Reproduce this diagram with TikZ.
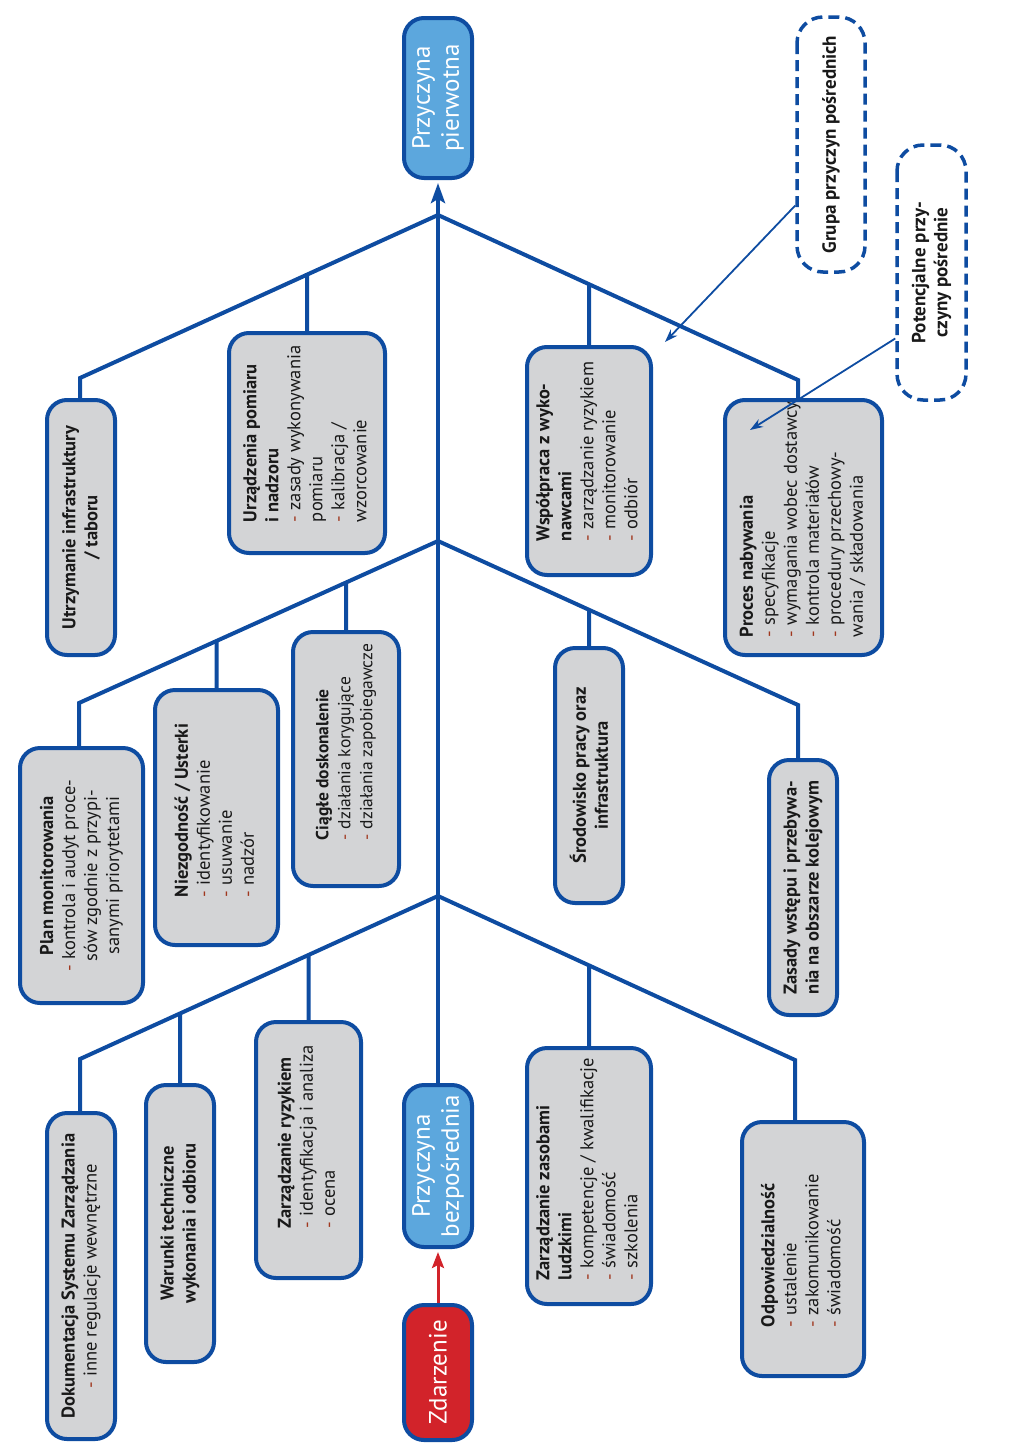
\documentclass[tikz,border=0pt]{standalone}
\usepackage{fontspec}
\setmainfont{PT Sans}
\usetikzlibrary{arrows.meta,calc}
\definecolor{bone}{RGB}{14,76,161}
\definecolor{boxgray}{RGB}{211,212,214}
\definecolor{lblue}{RGB}{92,167,221}
\definecolor{evred}{RGB}{210,35,42}
\definecolor{dashc}{RGB}{160,55,30}
\definecolor{txt}{RGB}{25,25,25}
\newcommand{\dsh}{{\color{dashc}-}~}
\newcommand{\lbx}[2]{\makebox[#1][l]{\begin{tabular}{@{}l@{}}#2\end{tabular}}}
\begin{document}
\begin{tikzpicture}[x=1pt,y=-1pt,
  gbox/.style={draw=bone, line width=4pt, fill=boxgray, rounded corners=20pt, rotate=90,
    inner sep=0pt, font=\fontsize{18.5}{22}\selectfont, text=txt},
  bbox/.style={draw=bone, line width=4pt, fill=lblue, rounded corners=20pt, rotate=90,
    inner sep=0pt, font=\fontsize{25}{29}\selectfont, text=white, align=center},
  dbox/.style={draw=bone, line width=3.5pt, dash pattern=on 11pt off 6pt, fill=white,
    rounded corners=26pt, rotate=90, inner sep=0pt, align=center,
    font=\fontsize{19}{22}\selectfont\bfseries, text=txt},
  boneline/.style={draw=bone, line width=4pt},
  thinarrow/.style={draw=bone, line width=1.8pt, -{Stealth[length=13pt,width=9pt]}}
]
\useasboundingbox (0,0) rectangle (1017,1456);

% central boxes
\node[bbox, minimum width=160pt, minimum height=68pt] (pp) at (438,98) {Przyczyna\\pierwotna};
\node[bbox, minimum width=162pt, minimum height=68pt] (pb) at (438,1166) {Przyczyna\\bezpośrednia};
\node[bbox, fill=evred, minimum width=135pt, minimum height=68pt] (zd) at (438,1372.5) {Zdarzenie};

% dashed legend boxes
\node[dbox, minimum width=255pt, minimum height=68pt] (grupa) at (831,144.5) {Grupa przyczyn pośrednich};
\node[dbox, minimum width=255pt, minimum height=69pt] (pot) at (931.5,272.5) {Potencjalne przy-\\czyny pośrednie};

% upper group
\node[gbox, minimum width=255pt, minimum height=68pt, align=center, font=\fontsize{18.5}{22}\selectfont\bfseries] (utrz) at (81,527.5) {Utrzymanie infrastruktury\\/ taboru};
\node[gbox, minimum width=220pt, minimum height=156pt] (urz) at (307,443) {\lbx{158pt}{{\bfseries Urządzenia pomiaru}\\{\bfseries i nadzoru}\\\dsh zasady wykonywania\\pomiaru\\\dsh kalibracja /\\wzorcowanie}};
\node[gbox, minimum width=228pt, minimum height=124pt] (wsp) at (589,461) {\lbx{160pt}{{\bfseries Współpraca z wyko-}\\{\bfseries nawcami}\\\dsh zarządzanie ryzykiem\\\dsh monitorowanie\\\dsh odbiór}};
\node[gbox, minimum width=255pt, minimum height=157pt] (proc) at (803.5,527.5) {\lbx{219pt}{{\bfseries Proces nabywania}\\\dsh specyfikacje\\\dsh wymagania wobec dostawcy\\\dsh kontrola materiałów\\\dsh procedury przechowy-\\wania / składowania}};

% middle group
\node[gbox, minimum width=255pt, minimum height=123pt, align=center] (plan) at (81.5,875.5) {{\bfseries Plan monitorowania}\\\dsh kontrola i audyt proce-\\sów zgodnie z przypi-\\sanymi priorytetami};
\node[gbox, minimum width=255pt, minimum height=123pt] (niez) at (216.5,817.5) {\lbx{159pt}{{\bfseries Niezgodność / Usterki}\\\dsh identyfikowanie\\\dsh usuwanie\\\dsh nadzór}};
\node[gbox, minimum width=254pt, minimum height=106pt, font=\fontsize{17.5}{22}\selectfont] (ciag) at (346,759) {\lbx{162pt}{{\bfseries Ciągłe doskonalenie}\\\dsh działania korygujące\\\dsh działania zapobiegawcze}};
\node[gbox, minimum width=255pt, minimum height=68pt, align=center, font=\fontsize{18.5}{22}\selectfont\bfseries] (srod) at (589,775.5) {Środowisko pracy oraz\\infrastruktura};
\node[gbox, minimum width=255pt, minimum height=68pt, align=center, font=\fontsize{18.5}{22}\selectfont\bfseries] (zas) at (803,887.5) {Zasady wstępu i przebywa-\\nia na obszarze kolejowym};

% lower group
\node[gbox, minimum width=326pt, minimum height=68pt, align=center] (dok) at (81,1276) {{\bfseries Dokumentacja Systemu Zarządzania}\\\dsh inne regulacje wewnętrzne};
\node[gbox, minimum width=277pt, minimum height=68pt, align=center, font=\fontsize{18.5}{22}\selectfont\bfseries] (war) at (180,1223.5) {Warunki techniczne\\wykonania i odbioru};
\node[gbox, minimum width=256pt, minimum height=105pt] (zr) at (308.5,1150) {\lbx{156pt}{{\bfseries Zarządzanie ryzykiem}\\\dsh identyfikacja i analiza\\\dsh ocena}};
\node[gbox, minimum width=256pt, minimum height=124pt] (zzl) at (589,1176) {\lbx{208pt}{{\bfseries Zarządzanie zasobami}\\{\bfseries ludzkimi}\\\dsh kompetencje / kwalifikacje\\\dsh świadomość\\\dsh szkolenia}};
\node[gbox, minimum width=254pt, minimum height=122pt] (odp) at (803,1249) {\lbx{156pt}{{\bfseries Odpowiedzialność}\\\dsh ustalenie\\\dsh zakomunikowanie\\\dsh świadomość}};

% spine junctions and bone ends
\coordinate (J1) at (438,215);
\coordinate (J2) at (438,541);
\coordinate (J3) at (438,896);
\coordinate (L1) at (80,378);
\coordinate (R1) at (798,380);
\coordinate (L2) at (79,703);
\coordinate (R2) at (798,705);
\coordinate (L3) at (80,1059);
\coordinate (R3) at (795,1060);

% spine
\draw[boneline, -{Stealth[length=20pt,width=14pt,inset=4pt]}, shorten >=3pt] (pb.east) -- (pp.west);
% event arrow
\draw[draw=evred, line width=3pt, -{Stealth[length=16pt,width=12pt,inset=3pt]}, shorten >=3pt] (zd.east) -- (pb.west);

% upper bones
\draw[boneline] (J1) -- (L1) -- (L1 |- utrz.east);
\draw[boneline] (J1) -- (R1) -- (R1 |- proc.east);
\draw[boneline] (urz.east) -- (intersection of J1--L1 and urz.east--urz.center);
\draw[boneline] (wsp.east) -- (intersection of J1--R1 and wsp.east--wsp.center);

% middle bones
\draw[boneline] (J2) -- (L2) -- (L2 |- plan.east);
\draw[boneline] (J2) -- (R2) -- (R2 |- zas.east);
\draw[boneline] (niez.east) -- (intersection of J2--L2 and niez.east--niez.center);
\draw[boneline] (ciag.east) -- (intersection of J2--L2 and ciag.east--ciag.center);
\draw[boneline] (srod.east) -- (intersection of J2--R2 and srod.east--srod.center);

% lower bones
\draw[boneline] (J3) -- (L3) -- (L3 |- dok.east);
\draw[boneline] (J3) -- (R3) -- (R3 |- odp.east);
\draw[boneline] (war.east) -- (intersection of J3--L3 and war.east--war.center);
\draw[boneline] (zr.east) -- (intersection of J3--L3 and zr.east--zr.center);
\draw[boneline] (zzl.east) -- (intersection of J3--R3 and zzl.east--zzl.center);

% legend pointers
\coordinate (gtip) at (665,342);
\coordinate (ptip) at (750,430);
\draw[thinarrow] ($(grupa.north)+(0,61)$) -- (gtip);
\draw[thinarrow] ($(pot.north)+(0,66)$) -- (ptip);
\end{tikzpicture}
\end{document}
